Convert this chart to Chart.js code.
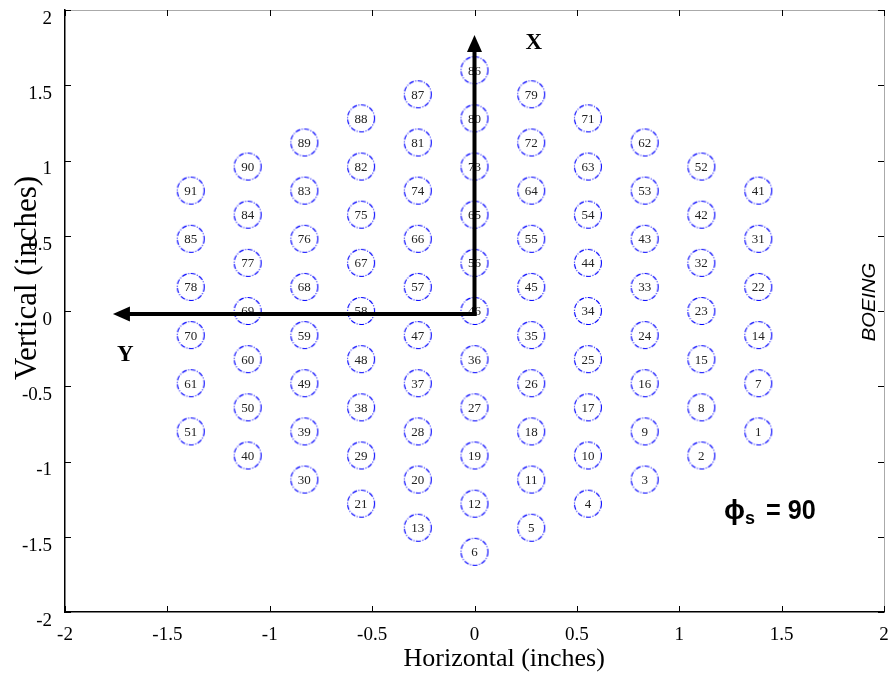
<!DOCTYPE html>
<html><head><meta charset="utf-8">
<script src="https://cdn.jsdelivr.net/npm/chart.js@4/dist/chart.umd.min.js"></script>
<style>html,body{margin:0;padding:0;background:#fff;}#wrap{width:893px;height:673px;}</style>
</head><body><div id="wrap"><canvas id="c" width="893" height="673"></canvas></div>
<script>
// Probe numbers and their positions (inches)
const probeNums = [1,2,3,4,5,6,7,8,9,10,11,12,13,14,15,16,17,18,19,20,21,22,23,24,25,26,27,28,29,30,
  31,32,33,34,35,36,37,38,39,40,41,42,43,44,45,46,47,48,49,50,51,52,53,54,55,56,57,58,59,60,
  61,62,63,64,65,66,67,68,69,70,71,72,73,74,75,76,77,78,79,80,81,82,83,84,85,86,87,88,89,90,91];
const probeX = [1.386,1.108,0.831,0.554,0.277,0,
  1.386,1.108,0.831,0.554,0.277,0,-0.277,
  1.386,1.108,0.831,0.554,0.277,0,-0.277,-0.554,
  1.386,1.108,0.831,0.554,0.277,0,-0.277,-0.554,-0.831,
  1.386,1.108,0.831,0.554,0.277,0,-0.277,-0.554,-0.831,-1.108,
  1.386,1.108,0.831,0.554,0.277,0,-0.277,-0.554,-0.831,-1.108,-1.386,
  1.108,0.831,0.554,0.277,0,-0.277,-0.554,-0.831,-1.108,-1.386,
  0.831,0.554,0.277,0,-0.277,-0.554,-0.831,-1.108,-1.386,
  0.554,0.277,0,-0.277,-0.554,-0.831,-1.108,-1.386,
  0.277,0,-0.277,-0.554,-0.831,-1.108,-1.386,
  0,-0.277,-0.554,-0.831,-1.108,-1.386];
const probeY = [-0.80,-0.96,-1.12,-1.28,-1.44,-1.60,
  -0.48,-0.64,-0.80,-0.96,-1.12,-1.28,-1.44,
  -0.16,-0.32,-0.48,-0.64,-0.80,-0.96,-1.12,-1.28,
  0.16,0,-0.16,-0.32,-0.48,-0.64,-0.80,-0.96,-1.12,
  0.48,0.32,0.16,0,-0.16,-0.32,-0.48,-0.64,-0.80,-0.96,
  0.80,0.64,0.48,0.32,0.16,0,-0.16,-0.32,-0.48,-0.64,-0.80,
  0.96,0.80,0.64,0.48,0.32,0.16,0,-0.16,-0.32,-0.48,
  1.12,0.96,0.80,0.64,0.48,0.32,0.16,0,-0.16,
  1.28,1.12,0.96,0.80,0.64,0.48,0.32,0.16,
  1.44,1.28,1.12,0.96,0.80,0.64,0.48,
  1.60,1.44,1.28,1.12,0.96,0.80];
const tickValues = [-2,-1.5,-1,-0.5,0,0.5,1,1.5,2];
// Coordinate-axis arrows (inches): from origin to tip
const arrowX = [[0,-0.02],[0,1.834]];
const arrowY = [[0,-0.02],[-1.766,-0.02]];
const xTitle = 'Horizontal (inches)';
const yTitle = 'Vertical (inches)';

const circ = document.createElement('canvas');
circ.width = 30; circ.height = 30;
(function(){
  const g = circ.getContext('2d');
  g.strokeStyle = '#0000ff'; g.lineWidth = 1.1;
  g.setLineDash([5,1.5,1,1.5]);
  g.beginPath(); g.arc(15,15,13.5,0,Math.PI*2); g.stroke();
})();

const pts = probeNums.map((n,i)=>({x:probeX[i], y:probeY[i], n:n}));

const deco = {
  id:'deco',
  afterDatasetsDraw(chart){
    const ctx = chart.ctx, xs = chart.scales.x, ys = chart.scales.y, a = chart.chartArea;
    ctx.save();
    ctx.fillStyle = '#222';
    ctx.font = '13px "Liberation Serif"';
    ctx.textAlign = 'center'; ctx.textBaseline = 'middle';
    chart.getDatasetMeta(0).data.forEach((el,i)=>{
      ctx.fillText(String(pts[i].n), el.x, el.y+1);
    });
    ctx.strokeStyle = '#000'; ctx.fillStyle = '#000'; ctx.lineWidth = 4;
    const drawArrow = (p0,p1)=>{
      const x0 = xs.getPixelForValue(p0[0]), y0 = ys.getPixelForValue(p0[1]);
      const x1 = xs.getPixelForValue(p1[0]), y1 = ys.getPixelForValue(p1[1]);
      const ang = Math.atan2(y1-y0, x1-x0), L = 17, W = 7.5;
      const bx = x1 - L*Math.cos(ang), by = y1 - L*Math.sin(ang);
      ctx.beginPath(); ctx.moveTo(x0 + (x1===x0?0:2)*Math.sign(x0-x1), y0 + (y1===y0?0:2)); ctx.lineTo(bx+2*Math.cos(ang), by+2*Math.sin(ang)); ctx.stroke();
      ctx.beginPath(); ctx.moveTo(x1,y1);
      ctx.lineTo(bx + W*Math.sin(ang), by - W*Math.cos(ang));
      ctx.lineTo(bx - W*Math.sin(ang), by + W*Math.cos(ang));
      ctx.closePath(); ctx.fill();
    };
    drawArrow(arrowX[0], arrowX[1]);
    drawArrow(arrowY[0], arrowY[1]);
    ctx.font = 'bold 23px "Liberation Serif"';
    ctx.textAlign='center'; ctx.textBaseline='middle';
    ctx.fillText('X', xs.getPixelForValue(0.29), ys.getPixelForValue(1.78));
    ctx.fillText('Y', xs.getPixelForValue(-1.705), ys.getPixelForValue(-0.29));
    ctx.textAlign='left'; ctx.textBaseline='alphabetic';
    let px = xs.getPixelForValue(1.219), py = ys.getPixelForValue(-1.38);
    ctx.font = 'bold 28px "Liberation Sans"';
    ctx.fillText('\u03D5', px, py); px += ctx.measureText('\u03D5').width;
    ctx.font = 'bold 18px "Liberation Sans"';
    ctx.fillText('s', px, py+5); px += ctx.measureText('s').width + 11;
    ctx.save();
    ctx.translate(px, py); ctx.scale(0.9, 1);
    ctx.font = 'bold 28px "Liberation Sans"';
    ctx.fillText('= 90', 0, 0);
    ctx.restore();
    ctx.save();
    ctx.translate(xs.getPixelForValue(1.93), ys.getPixelForValue(0.06));
    ctx.rotate(-Math.PI/2);
    ctx.scale(1.12,1);
    ctx.font = 'italic 18px "Liberation Sans"';
    ctx.textAlign='center'; ctx.textBaseline='middle';
    ctx.fillText('BOEING', 0, 0);
    ctx.restore();
    ctx.font = '26px "Liberation Serif"';
    ctx.textAlign='center'; ctx.textBaseline='alphabetic';
    ctx.fillText(xTitle, xs.getPixelForValue(0.145), 666);
    ctx.save();
    ctx.translate(36, ys.getPixelForValue(0.22));
    ctx.rotate(-Math.PI/2);
    ctx.font = '31px "Liberation Serif"';
    ctx.fillText(yTitle, 0, 0);
    ctx.restore();
    ctx.lineWidth = 1; ctx.strokeStyle = '#aaa';
    ctx.beginPath(); ctx.moveTo(a.left, a.top+0.5); ctx.lineTo(a.right+0.5, a.top+0.5); ctx.lineTo(a.right+0.5, a.bottom); ctx.stroke();
    ctx.strokeStyle = '#000'; ctx.lineWidth = 1;
    tickValues.forEach(v=>{
      const x = Math.round(xs.getPixelForValue(v))+0.5;
      ctx.beginPath(); ctx.moveTo(x, a.bottom); ctx.lineTo(x, a.bottom-6);
      ctx.moveTo(x, a.top); ctx.lineTo(x, a.top+6); ctx.stroke();
      const y = Math.round(ys.getPixelForValue(v))+0.5;
      ctx.beginPath(); ctx.moveTo(a.left, y); ctx.lineTo(a.left+6, y);
      ctx.moveTo(a.right, y); ctx.lineTo(a.right-6, y); ctx.stroke();
    });
    ctx.restore();
  }
};

const tickFont = {family:'"Liberation Serif"', size:19};
new Chart(document.getElementById('c'), {
  type:'scatter',
  data:{datasets:[{data:pts, pointStyle:circ, pointRadius:14, pointHoverRadius:14, clip:false}]},
  options:{
    responsive:false, animation:false, devicePixelRatio:1,
    layout:{autoPadding:false, padding:{top:10,right:9,left:0,bottom:0}},
    plugins:{legend:{display:false}, tooltip:{enabled:false}},
    events:[],
    scales:{
      x:{type:'linear', min:-2, max:2,
        afterBuildTicks(s){ s.ticks = tickValues.map(v=>({value:v})); },
        afterFit(s){ s.height = 61; s.paddingLeft = 0; s.paddingRight = 0; s.paddingTop = 0; s.paddingBottom = 0; },
        grid:{display:false}, border:{display:true,color:'#000',width:1.5},
        ticks:{font:tickFont, color:'#000', padding:4, maxRotation:0, autoSkip:false, callback:v=>String(v)},
        title:{display:false}
      },
      y:{type:'linear', min:-2, max:2,
        afterBuildTicks(s){ s.ticks = tickValues.map(v=>({value:v})); },
        afterFit(s){ s.width = 65; s.paddingLeft = 0; s.paddingRight = 0; s.paddingTop = 0; s.paddingBottom = 0; },
        grid:{display:false}, border:{display:true,color:'#000',width:1.5},
        ticks:{font:tickFont, color:'#000', padding:5, autoSkip:false, labelOffset:9, callback:v=>String(v)},
        title:{display:false}
      }
    }
  },
  plugins:[deco]
});
</script></body></html>
